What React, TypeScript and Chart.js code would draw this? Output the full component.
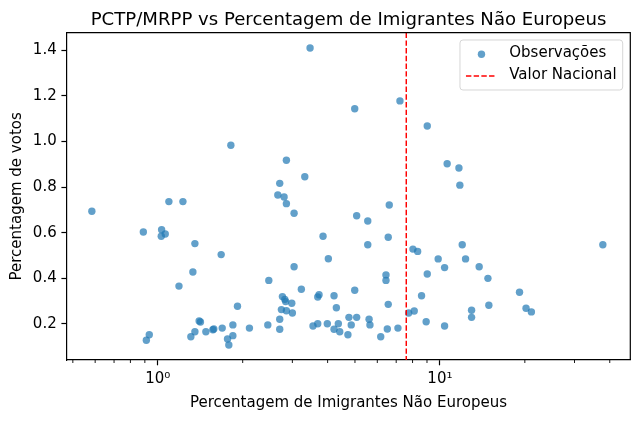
import React, { useEffect, useRef } from "react";
import { Chart, registerables } from "chart.js";

Chart.register(...registerables);

const TITLE = "PCTP/MRPP vs Percentagem de Imigrantes Não Europeus";
const X_LABEL = "Percentagem de Imigrantes Não Europeus";
const Y_LABEL = "Percentagem de votos";
const SERIES_LABEL = "Observações";
const NATIONAL_LABEL = "Valor Nacional";
const NATIONAL_VALUE = 7.6;

const IMMIGRANT_PCT = [
  0.584, 1.816, 1.095, 1.228, 0.889, 1.032, 1.029, 1.063, 1.354, 1.678,
  1.332, 1.189, 1.917, 1.402, 1.417, 1.568, 1.58, 1.692, 1.846, 2.113,
  1.846, 1.767, 1.786, 1.481, 1.354, 1.31, 0.933, 0.911,
  3.466, 7.218, 4.99, 9.02, 2.857, 3.32, 2.706, 2.664, 2.804, 2.857,
  6.615, 3.042, 5.07, 5.55, 3.853, 6.56, 5.55, 8.025, 8.34, 9.86,
  4.024, 3.042, 6.44, 6.44, 9.02, 2.475, 3.228, 4.99, 3.73, 3.69,
  2.766, 2.82, 2.84, 2.985, 4.215, 8.61, 2.743, 2.857, 3.0, 4.296,
  6.56, 7.75, 8.11, 8.94, 2.706, 2.455, 2.706, 3.55, 3.69, 3.99,
  4.365, 4.215, 4.416, 4.76, 5.07, 4.85, 4.72, 5.61, 5.65, 6.17,
  6.51, 7.1,
  10.61, 11.68, 11.77, 12.0, 12.33, 10.39, 13.78, 14.8, 19.15, 20.2,
  21.1, 12.95, 12.95, 14.91, 10.39, 37.8,
];

const VOTE_PCT = [
  0.694, 0.983, 0.736, 0.736, 0.603, 0.613, 0.584, 0.594, 0.552, 0.504,
  0.428, 0.366, 0.278, 0.213, 0.209, 0.175, 0.178, 0.182, 0.196, 0.182,
  0.149, 0.134, 0.108, 0.166, 0.166, 0.144, 0.153, 0.129,
  1.409, 1.177, 1.143, 1.067, 0.917, 0.845, 0.816, 0.765, 0.756, 0.727,
  0.721, 0.685, 0.674, 0.651, 0.584, 0.58, 0.547, 0.528, 0.518, 0.485,
  0.486, 0.451, 0.415, 0.391, 0.419, 0.391, 0.352, 0.348, 0.328, 0.318,
  0.32, 0.308, 0.298, 0.291, 0.324, 0.324, 0.263, 0.258, 0.248, 0.271,
  0.286, 0.248, 0.257, 0.21, 0.221, 0.196, 0.177, 0.191, 0.201, 0.201,
  0.201, 0.177, 0.166, 0.229, 0.229, 0.196, 0.153, 0.221, 0.196, 0.144,
  0.178, 0.182,
  0.902, 0.883, 0.808, 0.547, 0.485, 0.447, 0.451, 0.4, 0.339, 0.269,
  0.253, 0.26, 0.229, 0.282, 0.191, 0.547,
];

const X_MAJOR_TICKS = [1, 10];
const X_MAJOR_LABELS = ["10⁰", "10¹"];
const X_MINOR_TICKS = [0.5, 0.6, 0.7, 0.8, 0.9, 2, 3, 4, 5, 6, 7, 8, 9, 20, 30, 40];
const Y_TICKS = [0.2, 0.4, 0.6, 0.8, 1.0, 1.2, 1.4];

const X_MIN = 0.4756;
const X_MAX = 47.3;
const Y_MIN = 0.0423;
const Y_MAX = 1.4758;

const FONT = "DejaVu Sans";
const LABEL_SIZE = 15;
const TITLE_SIZE = 18.1;
const POINT_COLOR = "rgba(31,119,180,0.7)";

const decorPlugin = {
  id: "mplDecor",
  afterDatasetsDraw(chart: any) {
    const { ctx, chartArea, scales } = chart;
    const px = scales.x.getPixelForValue(NATIONAL_VALUE);
    ctx.save();
    ctx.strokeStyle = "red";
    ctx.lineWidth = 1.45;
    ctx.setLineDash([5.4, 2.3]);
    ctx.beginPath();
    ctx.moveTo(px, chartArea.top);
    ctx.lineTo(px, chartArea.bottom);
    ctx.stroke();
    ctx.restore();
  },
  afterDraw(chart: any) {
    const { ctx, chartArea, scales } = chart;
    ctx.save();
    // title centred over the axes
    ctx.fillStyle = "#000";
    ctx.font = `${TITLE_SIZE}px "${FONT}"`;
    ctx.textAlign = "center";
    ctx.textBaseline = "alphabetic";
    ctx.fillText(TITLE, (chartArea.left + chartArea.right) / 2, 25.2);

    // minor ticks on log x-axis
    ctx.strokeStyle = "#000";
    ctx.lineWidth = 0.9;
    X_MINOR_TICKS.forEach((v) => {
      const p = scales.x.getPixelForValue(v);
      ctx.beginPath();
      ctx.moveTo(p, chartArea.bottom);
      ctx.lineTo(p, chartArea.bottom + 3);
      ctx.stroke();
    });
    // top and right spines
    ctx.lineWidth = 1.2;
    ctx.beginPath();
    ctx.moveTo(chartArea.left, chartArea.top);
    ctx.lineTo(chartArea.right, chartArea.top);
    ctx.lineTo(chartArea.right, chartArea.bottom);
    ctx.stroke();

    // legend
    ctx.font = `${LABEL_SIZE}px "${FONT}"`;
    const labels = [chart.data.datasets[0].label, NATIONAL_LABEL];
    const textW = Math.max(...labels.map((l: string) => ctx.measureText(l).width));
    const boxW = 49.3 + textW + 6;
    const boxH = 50;
    const right = chartArea.right - 7.6;
    const left = right - boxW;
    const top = chartArea.top + 7.3;
    const r = 3;
    ctx.beginPath();
    ctx.moveTo(left + r, top);
    ctx.lineTo(right - r, top);
    ctx.arcTo(right, top, right, top + r, r);
    ctx.lineTo(right, top + boxH - r);
    ctx.arcTo(right, top + boxH, right - r, top + boxH, r);
    ctx.lineTo(left + r, top + boxH);
    ctx.arcTo(left, top + boxH, left, top + boxH - r, r);
    ctx.lineTo(left, top + r);
    ctx.arcTo(left, top, left + r, top, r);
    ctx.closePath();
    ctx.fillStyle = "rgba(255,255,255,0.8)";
    ctx.fill();
    ctx.strokeStyle = "rgba(204,204,204,0.8)";
    ctx.lineWidth = 1;
    ctx.stroke();

    // marker
    ctx.fillStyle = POINT_COLOR;
    ctx.beginPath();
    ctx.arc(left + 21.5, top + 14.2, 3.7, 0, Math.PI * 2);
    ctx.fill();
    // dashed handle
    ctx.strokeStyle = "red";
    ctx.lineWidth = 1.45;
    ctx.setLineDash([5.4, 2.3]);
    ctx.beginPath();
    ctx.moveTo(left + 6, top + 36);
    ctx.lineTo(left + 36, top + 36);
    ctx.stroke();
    ctx.setLineDash([]);

    ctx.fillStyle = "#000";
    ctx.textBaseline = "middle";
    ctx.textAlign = "left";
    ctx.fillText(labels[0], left + 49.3, top + 13.6);
    ctx.fillText(labels[1], left + 49.3, top + 35.2);
    ctx.restore();
  },
};

export default function App() {
  const canvasRef = useRef<HTMLCanvasElement | null>(null);

  useEffect(() => {
    document.body.style.margin = "0";
    const canvas = canvasRef.current;
    if (!canvas) return;
    const points = IMMIGRANT_PCT.map((x, i) => ({ x, y: VOTE_PCT[i] }));
    const tickFont = { family: FONT, size: LABEL_SIZE };
    const chart = new Chart(canvas, {
      type: "scatter",
      data: {
        datasets: [
          {
            label: SERIES_LABEL,
            data: points,
            backgroundColor: POINT_COLOR,
            borderWidth: 0,
            pointRadius: 3.7,
            pointHoverRadius: 3.7,
          },
        ],
      },
      options: {
        responsive: false,
        animation: false,
        events: [],
        layout: { padding: { left: 0, right: 9.7, top: 32.7, bottom: 0 } },
        plugins: {
          legend: { display: false },
          tooltip: { enabled: false },
          title: { display: false },
        },
        scales: {
          x: {
            type: "logarithmic",
            position: "bottom",
            min: X_MIN,
            max: X_MAX,
            afterFit: (s: any) => {
              s.height = 62;
            },
            afterBuildTicks: (s: any) => {
              s.ticks = [...X_MINOR_TICKS, ...X_MAJOR_TICKS]
                .sort((a, b) => a - b)
                .map((v) => ({ value: v, major: false }));
            },
            ticks: {
              autoSkip: false,
              maxRotation: 0,
              minRotation: 0,
              color: "#000",
              font: tickFont,
              padding: 5,
              callback: (v: any) => {
                const idx = X_MAJOR_TICKS.indexOf(Number(v));
                return idx >= 0 ? X_MAJOR_LABELS[idx] : "";
              },
            },
            grid: {
              display: true,
              drawOnChartArea: false,
              drawTicks: true,
              tickLength: 5.3,
              tickWidth: 1.2,
              tickColor: (c: any) =>
                c.tick && X_MAJOR_TICKS.includes(c.tick.value) ? "#000" : "rgba(0,0,0,0)",
            },
            border: { display: true, color: "#000", width: 1.2 },
            title: {
              display: true,
              text: X_LABEL,
              color: "#000",
              font: { family: FONT, size: LABEL_SIZE, lineHeight: 1.2 },
              padding: { top: 0, bottom: 10 },
            },
          },
          y: {
            type: "linear",
            min: Y_MIN,
            max: Y_MAX,
            afterFit: (s: any) => {
              s.width = 66.7;
            },
            afterBuildTicks: (s: any) => {
              s.ticks = Y_TICKS.map((v) => ({ value: v }));
            },
            ticks: {
              color: "#000",
              font: tickFont,
              padding: 4.7,
              callback: (v: any) => Number(v).toFixed(1),
            },
            grid: {
              display: true,
              drawOnChartArea: false,
              drawTicks: true,
              tickLength: 5.3,
              tickWidth: 1.2,
              tickColor: "#000",
            },
            border: { display: true, color: "#000", width: 1.2 },
            title: {
              display: true,
              text: Y_LABEL,
              color: "#000",
              font: { family: FONT, size: LABEL_SIZE, lineHeight: 1.2 },
              padding: { top: 7.7, bottom: 0 },
            },
          },
        },
      } as any,
      plugins: [decorPlugin],
    });
    return () => chart.destroy();
  }, []);

  return (
    <div style={{ width: 640, height: 422 }}>
      <canvas ref={canvasRef} width={640} height={422} style={{ width: 640, height: 422, display: "block" }} />
    </div>
  );
}
